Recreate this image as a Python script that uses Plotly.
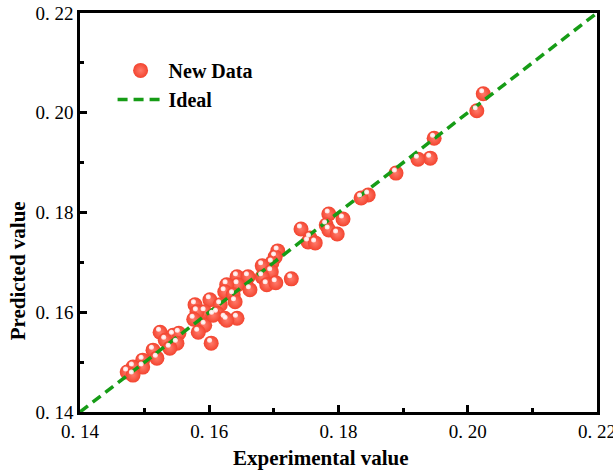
import plotly.graph_objects as go

# Data (experimental vs predicted)
experimental = [0.2024, 0.2014, 0.1948, 0.1942, 0.1923, 0.1889, 0.1846, 0.1835, 0.1807, 0.1785,
                0.1781, 0.1785, 0.1798, 0.1742, 0.1756, 0.1753, 0.1764, 0.1706, 0.1702, 0.1697,
                0.1682, 0.1696, 0.1682, 0.1689, 0.1703, 0.1727, 0.1643, 0.1660, 0.1644, 0.1663,
                0.1627, 0.1624, 0.1637, 0.1601, 0.1640, 0.1617, 0.1593, 0.1578, 0.1581, 0.1612,
                0.1624, 0.1643, 0.1593, 0.1583, 0.1603, 0.1576, 0.1524, 0.1544, 0.1553, 0.1532,
                0.1550, 0.1539, 0.1513, 0.1519, 0.1497, 0.1497, 0.1482, 0.1473, 0.1482, 0.1606,
                0.1627]
predicted = [0.2038, 0.2004, 0.1949, 0.1909, 0.1907, 0.1879, 0.1835, 0.1829, 0.1787, 0.1797,
             0.1775, 0.1765, 0.1757, 0.1767, 0.1749, 0.1741, 0.1739, 0.1723, 0.1711, 0.1699,
             0.1693, 0.1681, 0.1671, 0.1655, 0.1659, 0.1667, 0.1671, 0.1671, 0.1655, 0.1645,
             0.1655, 0.1641, 0.1635, 0.1625, 0.1621, 0.1615, 0.1601, 0.1615, 0.1601, 0.1598,
             0.1588, 0.1588, 0.1574, 0.1560, 0.1538, 0.1586, 0.1560, 0.1554, 0.1558, 0.1544,
             0.1538, 0.1528, 0.1524, 0.1508, 0.1504, 0.1490, 0.1490, 0.1480, 0.1474, 0.1594,
             0.1584]

ideal_x = [0.14, 0.22]
ideal_y = [0.14, 0.22]

tick_vals = [0.14, 0.16, 0.18, 0.20, 0.22]
tick_text = ["0. 14", "0. 16", "0. 18", "0. 20", "0. 22"]
minor_vals = [0.15, 0.17, 0.19, 0.21]

x_title = "Experimental value"
y_title = "Predicted value"

FONT = "Liberation Serif"

fig = go.Figure()

fig.add_trace(go.Scatter(
    x=experimental, y=predicted, mode="markers", name="<b>New Data</b>",
    marker=dict(size=15, color="#f3442f",
                gradient=dict(type="radial", color="#ff7a6a"),
                line=dict(width=0)),
))

fig.add_trace(go.Scatter(
    x=ideal_x, y=ideal_y, mode="lines", name="<b>Ideal</b>",
    line=dict(color="#169c16", width=3.5, dash="10px,6px"),
))

# specular highlight on each sphere (overlay axes slightly shifted)
fig.add_trace(go.Scatter(
    x=experimental, y=predicted, mode="markers", showlegend=False,
    xaxis="x2", yaxis="y2", hoverinfo="skip",
    marker=dict(size=5, color="rgba(255,225,225,0.95)",
                gradient=dict(type="radial", color="#ffffff"), line=dict(width=0)),
))

axis_common = dict(
    range=[0.14, 0.22], tickmode="array", tickvals=tick_vals, ticktext=tick_text,
    ticks="inside", ticklen=7, tickwidth=2.5, tickcolor="black",
    showline=True, linewidth=2.5, linecolor="black", mirror=True,
    showgrid=False, zeroline=False, automargin=False, ticklabeloverflow="allow",
    tickfont=dict(family=FONT, size=19, color="black"),
    minor=dict(tickvals=minor_vals, ticks="inside", ticklen=4, tickwidth=2.5, tickcolor="black"),
)

fig.update_layout(
    width=613, height=470,
    margin=dict(l=80, r=16, t=13, b=58),
    plot_bgcolor="white", paper_bgcolor="white",
    xaxis=axis_common,
    yaxis=axis_common,
    xaxis2=dict(range=[0.14 + 0.00025, 0.22 + 0.00025], overlaying="x", visible=False),
    yaxis2=dict(range=[0.14 - 0.0006, 0.22 - 0.0006], overlaying="y", visible=False),
    legend=dict(x=0.063, y=0.905, xanchor="left", yanchor="top",
                bgcolor="rgba(0,0,0,0)", font=dict(family=FONT, size=20, color="black"),
                itemwidth=46),
    showlegend=True,
    annotations=[
        dict(text="<b>" + x_title + "</b>", xref="paper", yref="paper",
             x=0.466, y=-0.115, xanchor="center", yanchor="middle", showarrow=False,
             font=dict(family=FONT, size=21, color="black")),
        dict(text="<b>" + y_title + "</b>", xref="paper", yref="paper",
             x=-0.12, y=0.355, xanchor="center", yanchor="middle", showarrow=False,
             textangle=-90, font=dict(family=FONT, size=21, color="black")),
    ],
)

fig.write_html("out.html", config={"displayModeBar": False},
               post_script="document.body.style.margin='0px';")
